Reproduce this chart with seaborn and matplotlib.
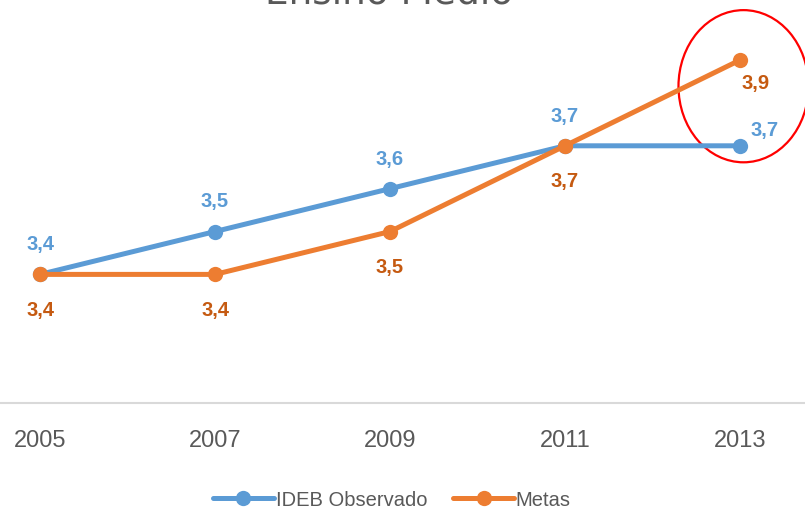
import numpy as np
import pandas as pd
import matplotlib.pyplot as plt
import seaborn as sns
from matplotlib.patches import Ellipse

# data
anos = ["2005", "2007", "2009", "2011", "2013"]
ideb_observado = [3.4, 3.5, 3.6, 3.7, 3.7]
metas = [3.4, 3.4, 3.5, 3.7, 3.9]

azul = "#5B9BD5"
laranja = "#ED7D31"
laranja_txt = "#C55A11"
cinza = "#595959"

sns.set_style("white")
plt.rcParams["font.family"] = ["Liberation Sans", "DejaVu Sans"]

df = pd.DataFrame({
    "ano": anos * 2,
    "valor": ideb_observado + metas,
    "serie": ["IDEB Observado"] * len(anos) + ["Metas"] * len(anos),
})

fig = plt.figure(figsize=(8.05, 5.10), dpi=100)
ax_h = (404 - 18.2) / 510
ax = fig.add_axes([-47.5 / 805, 106 / 510, 875 / 805, ax_h])

sns.lineplot(data=df, x="ano", y="valor", hue="serie",
             palette={"IDEB Observado": azul, "Metas": laranja},
             marker="o", markersize=11, markeredgewidth=0, linewidth=3.6,
             ax=ax, legend=True)

ax.set_xlim(-0.5, 4.5)
ax.set_ylim(3.1, 4.0)
ax.set_yticks([])
ax.set_xlabel("")
ax.set_ylabel("")
for s in ["top", "left", "right"]:
    ax.spines[s].set_visible(False)
ax.spines["bottom"].set_color("#D9D9D9")
ax.spines["bottom"].set_linewidth(1.5)
ax.tick_params(axis="x", length=0, labelsize=17, labelcolor=cinza, pad=18.5)

# data labels
rot = dict(ha="center", va="center", fontsize=14.5, fontweight="bold",
           textcoords="offset points")
for i, v in enumerate(ideb_observado):
    off = (18, 11.5) if i == len(anos) - 1 else (0, 22)
    ax.annotate(f"{v:.1f}".replace(".", ","), (i, v), xytext=off, color=azul, **rot)
for i, v in enumerate(metas):
    off = (11, -16) if i == len(anos) - 1 else (0, -25)
    ax.annotate(f"{v:.1f}".replace(".", ","), (i, v), xytext=off, color=laranja_txt, **rot)

# destaque vermelho
ax.add_patch(Ellipse((4.02, 3.839), 0.743, 0.355, fill=False,
                     edgecolor="#FF0000", linewidth=1.6, clip_on=False))

# titulo (cortado no topo, como no original)
fig.text(0.483, 1 - 3 / 510, "Ensino Médio", ha="center", va="baseline",
         fontsize=27, color=cinza, family="DejaVu Sans")

leg = ax.legend(loc="center", bbox_to_anchor=(392 / 805 * 805 / 875 + 47.5 / 875,
                                              -(501 - 404) / 510 / ax_h),
                frameon=False, ncol=2, fontsize=14.5, handlelength=3.0,
                handletextpad=0.1, columnspacing=1.3, borderaxespad=0)
for t in leg.get_texts():
    t.set_color(cinza)

fig.savefig("out.png", dpi=100)
